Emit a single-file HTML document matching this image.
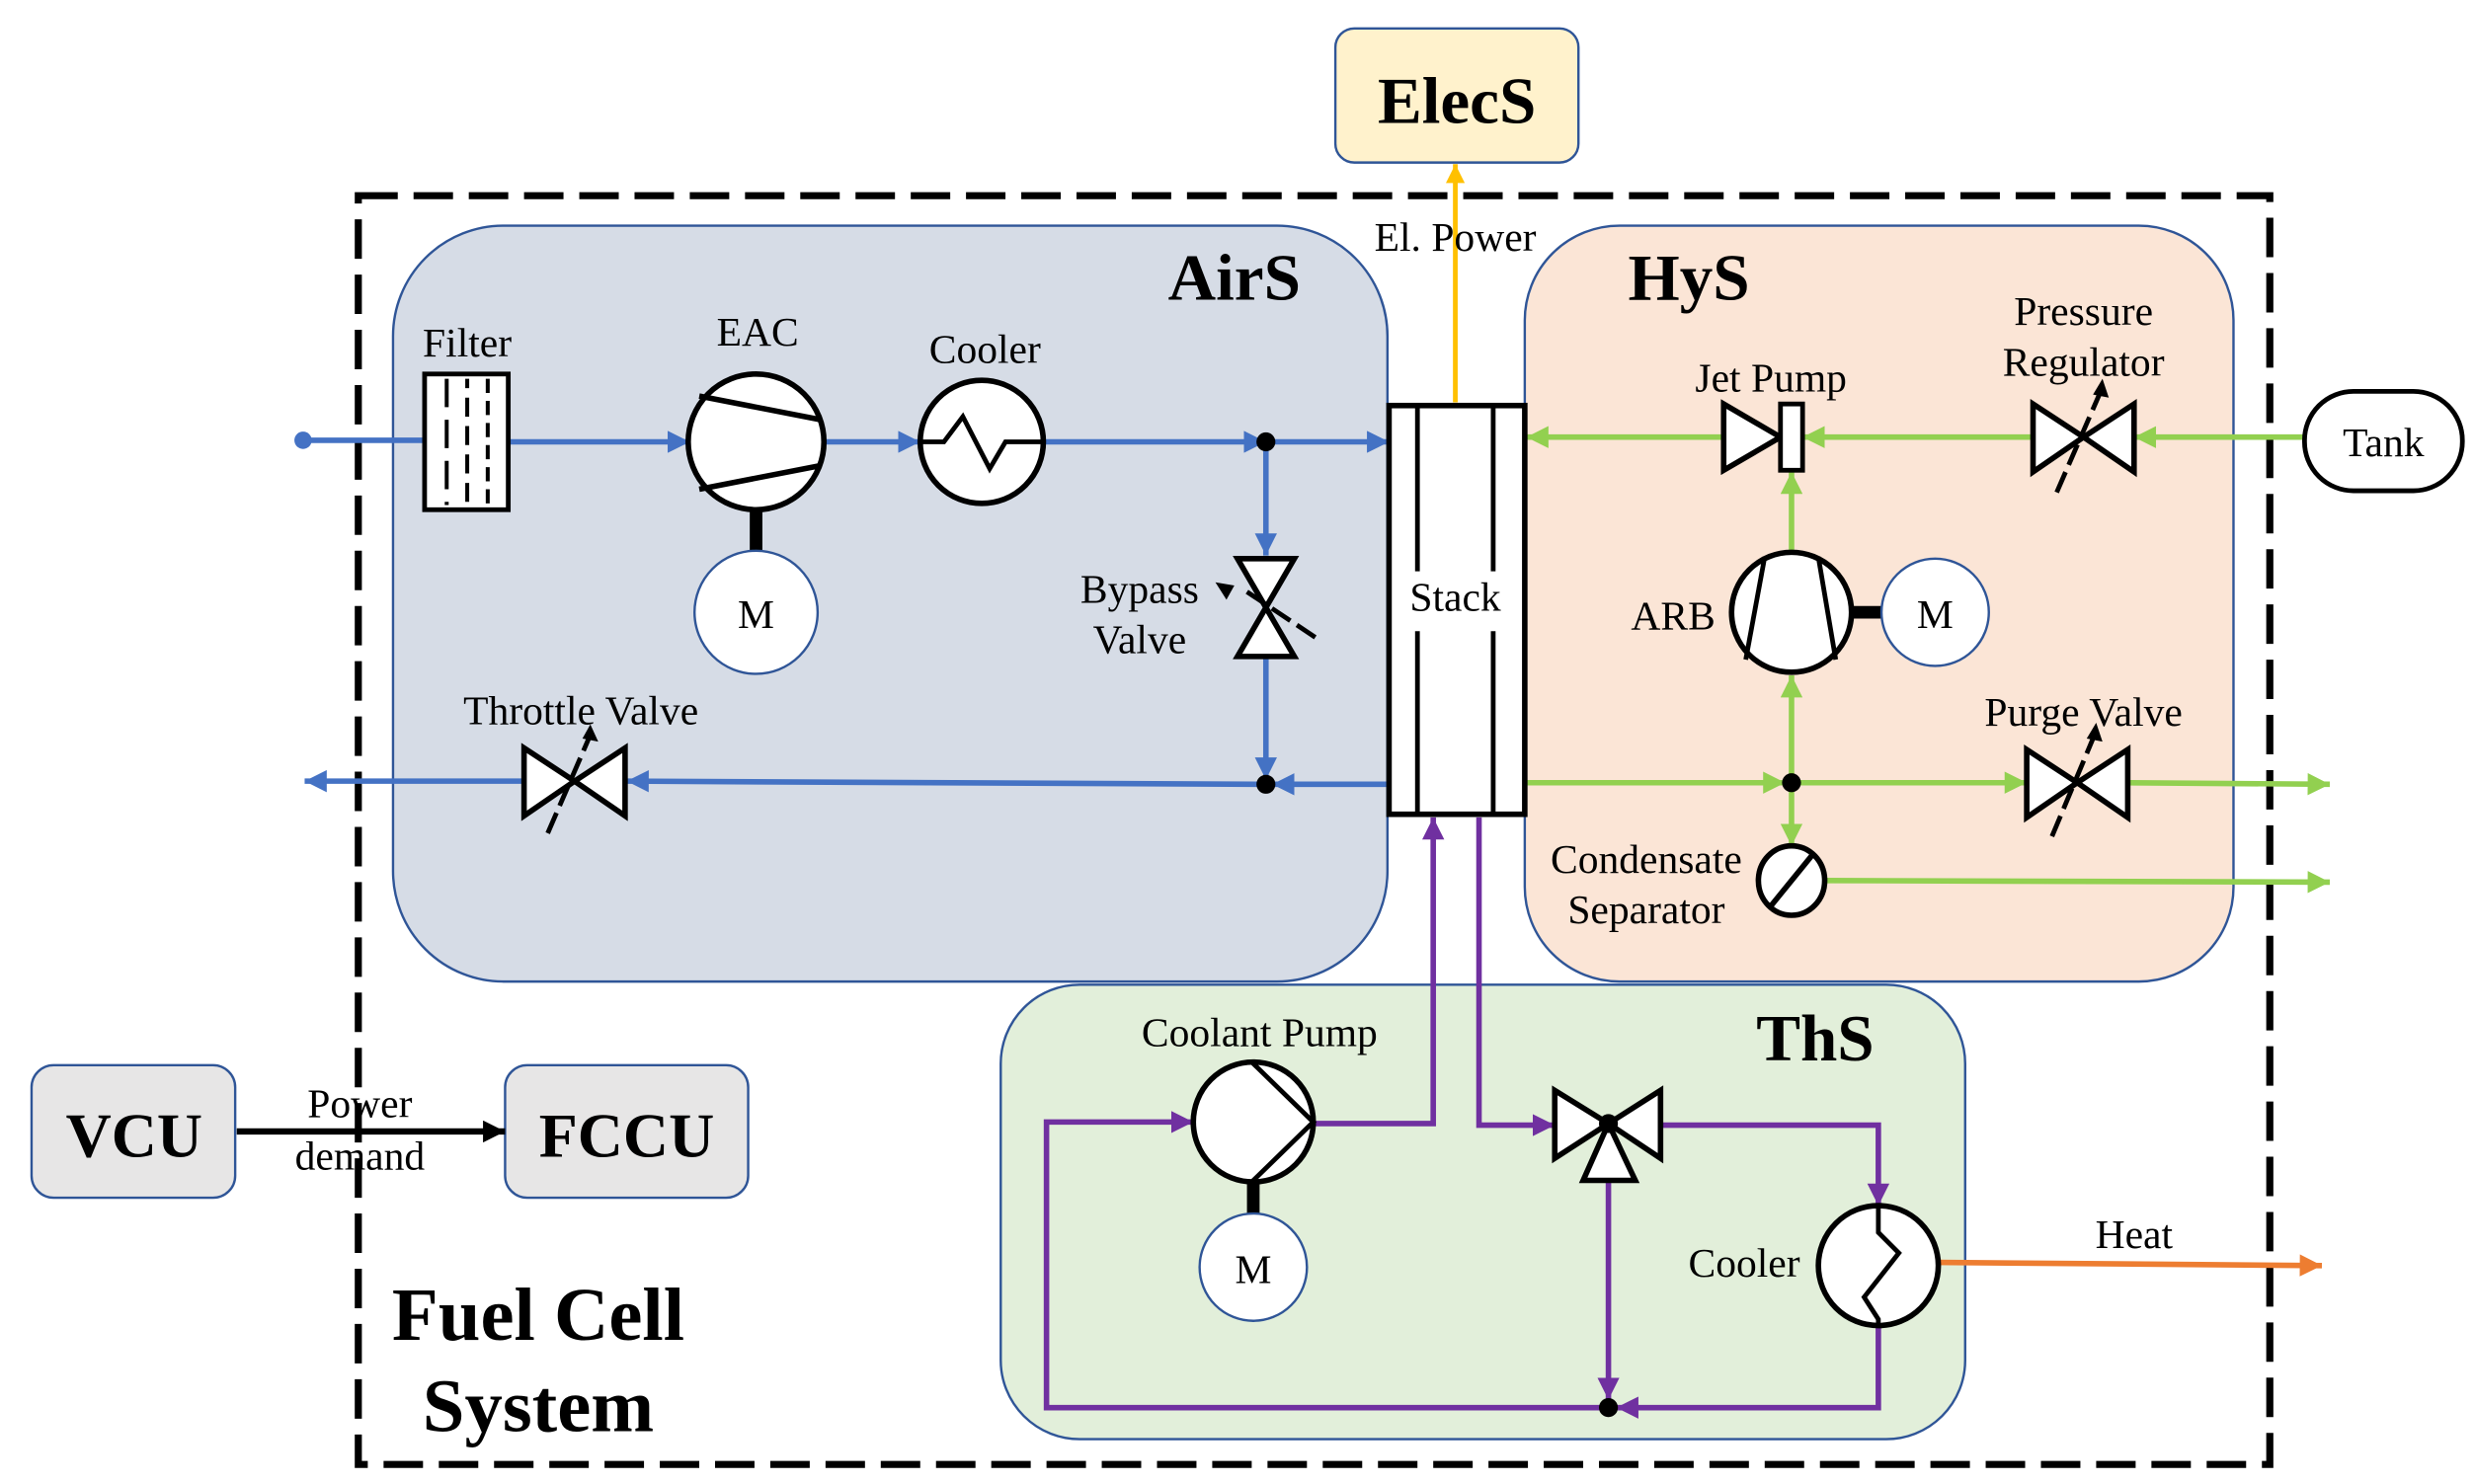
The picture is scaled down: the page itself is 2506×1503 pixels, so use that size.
<!DOCTYPE html>
<html><head><meta charset="utf-8"><style>
html,body{margin:0;padding:0;background:#fff;}
svg{display:block;}
text{font-family:"Liberation Serif",serif;fill:#000;}
.b{font-weight:bold;}
</style></head><body>
<svg width="2506" height="1503" viewBox="0 0 1568 940.4" preserveAspectRatio="none" xmlns="http://www.w3.org/2000/svg">
<defs>
<marker id="ab" viewBox="0 0 10 10" refX="10" refY="5" markerWidth="4" markerHeight="4" orient="auto" markerUnits="strokeWidth"><path d="M0,0L10,5L0,10z" fill="#4472c4"/></marker>
<marker id="ag" viewBox="0 0 10 10" refX="10" refY="5" markerWidth="4" markerHeight="4" orient="auto" markerUnits="strokeWidth"><path d="M0,0L10,5L0,10z" fill="#92d050"/></marker>
<marker id="ap" viewBox="0 0 10 10" refX="10" refY="5" markerWidth="4" markerHeight="4" orient="auto" markerUnits="strokeWidth"><path d="M0,0L10,5L0,10z" fill="#7030a0"/></marker>
<marker id="ao" viewBox="0 0 10 10" refX="10" refY="5" markerWidth="4" markerHeight="4" orient="auto" markerUnits="strokeWidth"><path d="M0,0L10,5L0,10z" fill="#ed7d31"/></marker>
<marker id="ay" viewBox="0 0 10 10" refX="10" refY="5" markerWidth="4" markerHeight="4" orient="auto" markerUnits="strokeWidth"><path d="M0,0L10,5L0,10z" fill="#ffc000"/></marker>
<marker id="ak" viewBox="0 0 10 10" refX="10" refY="5" markerWidth="3.5" markerHeight="3.5" orient="auto" markerUnits="strokeWidth"><path d="M0,0L10,5L0,10z" fill="#000"/></marker>
</defs>

<rect x="227" y="124" width="1211" height="804" fill="none" stroke="#000" stroke-width="4.5" stroke-dasharray="25 10"/>

<rect x="249" y="143" width="630" height="479" rx="70" fill="#d6dce6" stroke="#2f5597" stroke-width="1.5"/>
<rect x="966" y="143" width="449" height="479" rx="60" fill="#fbe5d6" stroke="#2f5597" stroke-width="1.5"/>
<rect x="634" y="624" width="611" height="288" rx="50" fill="#e2efda" stroke="#2f5597" stroke-width="1.5"/>

<rect x="846" y="18" width="154" height="85" rx="12" fill="#fff2cc" stroke="#2f5597" stroke-width="1.5"/>
<text x="923" y="78" font-size="42" class="b" text-anchor="middle">ElecS</text>
<line x1="922" y1="255" x2="922" y2="104" stroke="#ffc000" stroke-width="3" marker-end="url(#ay)"/>
<text x="922" y="159" font-size="26" text-anchor="middle">El. Power</text>

<rect x="20" y="675" width="129" height="84" rx="14" fill="#e7e6e6" stroke="#2f5597" stroke-width="1.5"/>
<text x="85" y="733" font-size="40" class="b" text-anchor="middle">VCU</text>
<rect x="320" y="675" width="154" height="84" rx="14" fill="#e7e6e6" stroke="#2f5597" stroke-width="1.5"/>
<text x="397" y="733" font-size="40" class="b" text-anchor="middle">FCCU</text>
<line x1="150" y1="717" x2="320" y2="717" stroke="#000" stroke-width="4" marker-end="url(#ak)"/>
<text x="228" y="708" font-size="26" text-anchor="middle">Power</text>
<text x="228" y="741" font-size="26" text-anchor="middle">demand</text>

<text x="341" y="849" font-size="48" class="b" text-anchor="middle">Fuel Cell</text>
<text x="341" y="907" font-size="48" class="b" text-anchor="middle">System</text>

<text x="782" y="190" font-size="42" class="b" text-anchor="middle">AirS</text>
<text x="1070" y="190" font-size="42" class="b" text-anchor="middle">HyS</text>
<text x="1150" y="672" font-size="42" class="b" text-anchor="middle">ThS</text>

<g stroke="#4472c4" stroke-width="3.5" fill="none">
<line x1="192" y1="279" x2="269" y2="279"/>
<line x1="322" y1="280" x2="437" y2="280" marker-end="url(#ab)"/>
<line x1="522" y1="280" x2="583" y2="280" marker-end="url(#ab)"/>
<line x1="661" y1="280" x2="802" y2="280" marker-end="url(#ab)"/>
<line x1="802" y1="280" x2="880" y2="280" marker-end="url(#ab)"/>
<line x1="802" y1="280" x2="802" y2="352" marker-end="url(#ab)"/>
<line x1="802" y1="417" x2="802" y2="494" marker-end="url(#ab)"/>
<line x1="880" y1="497" x2="806" y2="497" marker-end="url(#ab)"/>
<line x1="802" y1="497" x2="397" y2="495" marker-end="url(#ab)"/>
<line x1="331" y1="495" x2="193" y2="495" marker-end="url(#ab)"/>
</g>
<circle cx="192" cy="279" r="5.5" fill="#4472c4"/>
<circle cx="802" cy="280" r="6" fill="#000"/>
<circle cx="802" cy="497" r="6" fill="#000"/>

<rect x="269" y="237" width="53" height="86" fill="#fff" stroke="#000" stroke-width="3"/>
<g stroke="#000" stroke-width="2.5">
<line x1="283" y1="240" x2="283" y2="320" stroke-dasharray="18 8"/>
<line x1="296" y1="240" x2="296" y2="320" stroke-dasharray="12 6" stroke-dashoffset="6"/>
<line x1="309" y1="240" x2="309" y2="320" stroke-dasharray="9 5"/>
</g>
<text x="296" y="226" font-size="26" text-anchor="middle">Filter</text>

<line x1="479" y1="322" x2="479" y2="350" stroke="#000" stroke-width="8"/>
<ellipse cx="479" cy="280" rx="43" ry="43" fill="#fff" stroke="#000" stroke-width="3.5"/>
<line x1="443" y1="251" x2="520" y2="266" stroke="#000" stroke-width="3.5"/>
<line x1="443" y1="310" x2="520" y2="295" stroke="#000" stroke-width="3.5"/>
<text x="480" y="219" font-size="26" text-anchor="middle">EAC</text>
<circle cx="479" cy="388" r="39" fill="#fff" stroke="#2f5597" stroke-width="1.5"/>
<text x="479" y="398" font-size="26" text-anchor="middle">M</text>

<circle cx="622" cy="280" r="39" fill="#fff" stroke="#000" stroke-width="3.5"/>
<polyline points="584,280 598,280 610,264 627,297 637,280 661,280" fill="none" stroke="#000" stroke-width="3"/>
<text x="624" y="230" font-size="26" text-anchor="middle">Cooler</text>

<polygon points="784,354 820,354 802,385 784,416 820,416 802,385" fill="#fff" stroke="#000" stroke-width="3.5"/>
<line x1="790" y1="375" x2="835" y2="405" stroke="#000" stroke-width="3" stroke-dasharray="14 5"/>
<path d="M770,369 L782,371 L777,380 z" fill="#000"/>
<text x="722" y="382" font-size="26" text-anchor="middle">Bypass</text>
<text x="722" y="414" font-size="26" text-anchor="middle">Valve</text>

<polygon points="332,474 332,517 364,495 396,474 396,517 364,495" fill="#fff" stroke="#000" stroke-width="3.5"/>
<line x1="347" y1="528" x2="373" y2="468" stroke="#000" stroke-width="3" stroke-dasharray="14 5"/>
<path d="M374,459 L379,470 L369,468 z" fill="#000"/>
<text x="368" y="459" font-size="26" text-anchor="middle">Throttle Valve</text>

<g stroke="#92d050" stroke-width="3.5" fill="none">
<line x1="1460" y1="277" x2="1352" y2="277" marker-end="url(#ag)"/>
<line x1="1288" y1="277" x2="1142" y2="277" marker-end="url(#ag)"/>
<line x1="1092" y1="277" x2="967" y2="277" marker-end="url(#ag)"/>
<line x1="1135" y1="350" x2="1135" y2="299" marker-end="url(#ag)"/>
<line x1="1135" y1="496" x2="1135" y2="428" marker-end="url(#ag)"/>
<line x1="967" y1="496" x2="1131" y2="496" marker-end="url(#ag)"/>
<line x1="1135" y1="496" x2="1284" y2="496" marker-end="url(#ag)"/>
<line x1="1348" y1="496" x2="1476" y2="497" marker-end="url(#ag)"/>
<line x1="1135" y1="496" x2="1135" y2="536" marker-end="url(#ag)"/>
<line x1="1157" y1="558" x2="1476" y2="559" marker-end="url(#ag)"/>
</g>
<circle cx="1135" cy="496" r="6" fill="#000"/>

<rect x="1460" y="248" width="100" height="63" rx="31" fill="#fff" stroke="#000" stroke-width="3"/>
<text x="1510" y="289" font-size="26" text-anchor="middle">Tank</text>

<polygon points="1288,256 1288,299 1320,277 1352,256 1352,299 1320,277" fill="#fff" stroke="#000" stroke-width="3.5"/>
<line x1="1303" y1="312" x2="1330" y2="250" stroke="#000" stroke-width="3" stroke-dasharray="14 5"/>
<path d="M1332,240 L1336,252 L1326,250 z" fill="#000"/>
<text x="1320" y="206" font-size="26" text-anchor="middle">Pressure</text>
<text x="1320" y="238" font-size="26" text-anchor="middle">Regulator</text>

<polygon points="1092,256 1092,298 1128,277" fill="#fff" stroke="#000" stroke-width="3.5"/>
<rect x="1128" y="256" width="14" height="42" fill="#fff" stroke="#000" stroke-width="3"/>
<text x="1122" y="248" font-size="26" text-anchor="middle">Jet Pump</text>

<line x1="1172" y1="388" x2="1194" y2="388" stroke="#000" stroke-width="8"/>
<ellipse cx="1135" cy="388" rx="38" ry="38" fill="#fff" stroke="#000" stroke-width="3.5"/>
<line x1="1118" y1="353" x2="1106" y2="418" stroke="#000" stroke-width="3"/>
<line x1="1152" y1="353" x2="1163" y2="418" stroke="#000" stroke-width="3"/>
<circle cx="1226" cy="388" r="34" fill="#fff" stroke="#2f5597" stroke-width="1.5"/>
<text x="1226" y="398" font-size="26" text-anchor="middle">M</text>
<text x="1060" y="399" font-size="26" text-anchor="middle">ARB</text>

<polygon points="1284,475 1284,518 1316,496 1348,475 1348,518 1316,496" fill="#fff" stroke="#000" stroke-width="3.5"/>
<line x1="1300" y1="530" x2="1326" y2="468" stroke="#000" stroke-width="3" stroke-dasharray="14 5"/>
<path d="M1328,458 L1332,470 L1322,468 z" fill="#000"/>
<text x="1320" y="460" font-size="26" text-anchor="middle">Purge Valve</text>

<ellipse cx="1135" cy="558" rx="21" ry="22" fill="#fff" stroke="#000" stroke-width="3.5"/>
<line x1="1122" y1="574" x2="1148" y2="542" stroke="#000" stroke-width="3.5"/>
<text x="1043" y="553" font-size="26" text-anchor="middle">Condensate</text>
<text x="1043" y="585" font-size="26" text-anchor="middle">Separator</text>

<g stroke="#7030a0" stroke-width="3.5" fill="none">
<polyline points="832,712 908,712 908,518" marker-end="url(#ap)"/>
<polyline points="937,518 937,713 985,713" marker-end="url(#ap)"/>
<polyline points="1050,713 1190,713 1190,764" marker-end="url(#ap)"/>
<polyline points="1190,840 1190,892 1024,892" marker-end="url(#ap)"/>
<line x1="1019" y1="748" x2="1019" y2="887" marker-end="url(#ap)"/>
<polyline points="1019,892 663,892 663,711 756,711" marker-end="url(#ap)"/>
</g>
<circle cx="1019" cy="892" r="6" fill="#000"/>
<line x1="1228" y1="800" x2="1471" y2="802" stroke="#ed7d31" stroke-width="3.5" marker-end="url(#ao)"/>
<text x="1352" y="791" font-size="26" text-anchor="middle">Heat</text>

<line x1="794" y1="748" x2="794" y2="772" stroke="#000" stroke-width="8"/>
<ellipse cx="794" cy="711" rx="38" ry="38" fill="#fff" stroke="#000" stroke-width="3.5"/>
<polyline points="793,673 832,711 793,749" fill="none" stroke="#000" stroke-width="3"/>
<circle cx="794" cy="803" r="34" fill="#fff" stroke="#2f5597" stroke-width="1.5"/>
<text x="794" y="813" font-size="26" text-anchor="middle">M</text>
<text x="798" y="663" font-size="26" text-anchor="middle">Coolant Pump</text>

<polygon points="1003,748 1036,748 1019,712" fill="#fff" stroke="#000" stroke-width="3.5"/>
<polygon points="985,691 985,734 1019,712 1052,691 1052,734 1019,712" fill="#fff" stroke="#000" stroke-width="3.5"/>
<circle cx="1019" cy="712" r="6" fill="#000"/>

<ellipse cx="1190" cy="802" rx="38" ry="38" fill="#fff" stroke="#000" stroke-width="3.5"/>
<polyline points="1190,765 1190,781 1203,794 1181,822 1190,836 1190,840" fill="none" stroke="#000" stroke-width="3"/>
<text x="1105" y="809" font-size="26" text-anchor="middle">Cooler</text>

<rect x="880" y="257" width="86" height="259" fill="#fff" stroke="#000" stroke-width="3.5"/>
<g stroke="#000" stroke-width="3">
<line x1="898" y1="257" x2="898" y2="362"/><line x1="898" y1="400" x2="898" y2="516"/>
<line x1="946" y1="257" x2="946" y2="362"/><line x1="946" y1="400" x2="946" y2="516"/>
</g>
<text x="922" y="387" font-size="26" text-anchor="middle">Stack</text>
</svg>
</body></html>
